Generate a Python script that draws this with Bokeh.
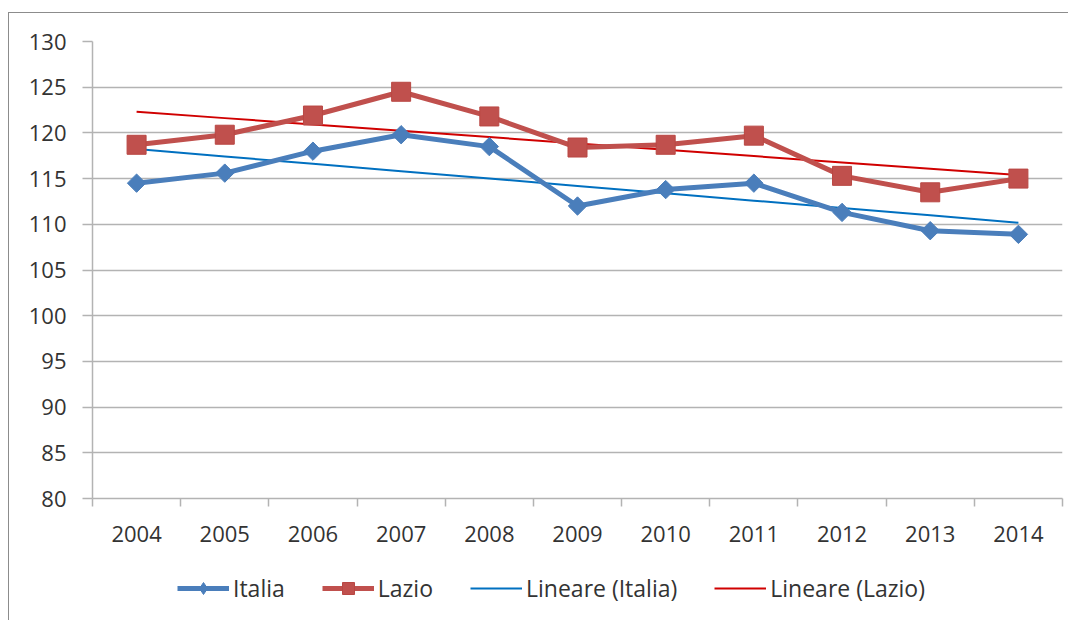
import numpy as np
from bokeh.plotting import figure
from bokeh.layouts import column
from bokeh.models import Legend, LegendItem, FixedTicker, Range1d
from bokeh.embed import file_html
from bokeh.resources import INLINE

years = [2004, 2005, 2006, 2007, 2008, 2009, 2010, 2011, 2012, 2013, 2014]
italia = [114.5, 115.6, 118.0, 119.8, 118.5, 112.0, 113.8, 114.5, 111.3, 109.3, 108.9]
lazio = [118.7, 119.8, 121.9, 124.5, 121.8, 118.4, 118.7, 119.7, 115.3, 113.5, 115.0]
y_ticks = [80, 85, 90, 95, 100, 105, 110, 115, 120, 125, 130]
year_labels = ["2004", "2005", "2006", "2007", "2008", "2009", "2010", "2011", "2012", "2013", "2014"]
series_names = ["Italia", "Lazio", "Lineare (Italia)", "Lineare (Lazio)"]

FONT = "Open Sans"
TXT = "#333333"
GRID = "#b3b3b3"
BLUE = "#4a7ebb"
RED = "#c0504d"
TBLUE = "#0070c0"
TRED = "#d00000"

# Linear trend lines (least squares, like the spreadsheet's "Lineare")
xs = np.array(years, dtype=float)
ci = np.polyfit(xs, italia, 1)
cl = np.polyfit(xs, lazio, 1)
trend_i = list(np.polyval(ci, xs))
trend_l = list(np.polyval(cl, xs))

p = figure(frame_width=970, frame_height=457,
           min_border_left=83, min_border_top=28, min_border_right=6, min_border_bottom=60,
           output_backend="svg", toolbar_location=None,
           x_range=Range1d(years[0] - 0.5, years[-1] + 0.5),
           y_range=Range1d(y_ticks[0], y_ticks[-1]))
p.outline_line_color = None
p.background_fill_color = "white"
p.border_fill_color = "white"

# x axis: labels at category centres, ticks at boundaries
p.xaxis.ticker = FixedTicker(ticks=years, minor_ticks=[y - 0.5 for y in years] + [years[-1] + 0.5])
p.xaxis.major_label_overrides = {y: l for y, l in zip(years, year_labels)}
p.xaxis.major_tick_out = 0
p.xaxis.major_tick_in = 0
p.xaxis.minor_tick_out = 8
p.xaxis.minor_tick_in = 0
p.xaxis.minor_tick_line_color = GRID
p.xaxis.minor_tick_line_width = 1.5
p.xaxis.axis_line_color = GRID
p.xaxis.axis_line_width = 1.5
p.xaxis.major_label_standoff = 19
p.xgrid.grid_line_color = None

p.yaxis.ticker = FixedTicker(ticks=y_ticks)
p.yaxis.major_tick_out = 10
p.yaxis.major_tick_in = 0
p.yaxis.minor_tick_line_color = None
p.yaxis.major_tick_line_color = GRID
p.yaxis.major_tick_line_width = 1.5
p.yaxis.axis_line_color = GRID
p.yaxis.axis_line_width = 1.5
p.yaxis.major_label_standoff = 16
p.ygrid.grid_line_color = GRID
p.ygrid.grid_line_width = 1.5

for ax in (p.xaxis, p.yaxis):
    ax.major_label_text_font = FONT
    ax.major_label_text_font_size = "22px"
    ax.major_label_text_color = TXT

p.line(years, trend_i, line_color=TBLUE, line_width=2)
p.line(years, trend_l, line_color=TRED, line_width=2)
p.line(years, italia, line_color=BLUE, line_width=5)
p.scatter(years, italia, marker="square", angle=np.pi / 4, size=13,
          fill_color=BLUE, line_color=BLUE)
p.line(years, lazio, line_color=RED, line_width=5)
p.scatter(years, lazio, marker="square", size=19,
          fill_color=RED, line_color="#b94743", line_width=1)

# Legend strip under the chart (same styles; legend-only renderers placed outside its range)
q = figure(frame_width=1059, frame_height=62, min_border=0,
           output_backend="svg", toolbar_location=None,
           x_range=Range1d(0, 1), y_range=Range1d(0, 1))
q.axis.visible = False
q.grid.grid_line_color = None
q.outline_line_color = None
q.background_fill_color = "white"
q.border_fill_color = "white"

ox, oy = [-5, -6], [-5, -6]
qli = q.line(ox, oy, line_color=BLUE, line_width=5)
qsi = q.scatter(ox, oy, marker="diamond", size=15, fill_color=BLUE, line_color=BLUE)
qll = q.line(ox, oy, line_color=RED, line_width=5)
qsl = q.scatter(ox, oy, marker="square", size=14, fill_color=RED, line_color="#b94743")
qti = q.line(ox, oy, line_color=TBLUE, line_width=2)
qtl = q.line(ox, oy, line_color=TRED, line_width=2)

legend = Legend(items=[
    LegendItem(label=series_names[0], renderers=[qli, qsi]),
    LegendItem(label=series_names[1], renderers=[qll, qsl]),
    LegendItem(label=series_names[2], renderers=[qti]),
    LegendItem(label=series_names[3], renderers=[qtl]),
], orientation="horizontal", location=(168, 16))
legend.label_text_font = FONT
legend.label_text_font_size = "23px"
legend.label_text_color = TXT
legend.glyph_width = 52
legend.glyph_height = 30
legend.label_standoff = 4
legend.spacing = 37
legend.padding = 0
legend.margin = 0
legend.border_line_color = None
legend.background_fill_alpha = 0
q.add_layout(legend)

layout = column(p, q, spacing=0)
layout.margin = (12, 0, 0, 8)
layout.styles = {"border-left": "1px solid #8c8c8c", "border-top": "1px solid #8c8c8c",
                 "background-color": "white"}

open("out.html", "w").write(file_html(layout, INLINE))
